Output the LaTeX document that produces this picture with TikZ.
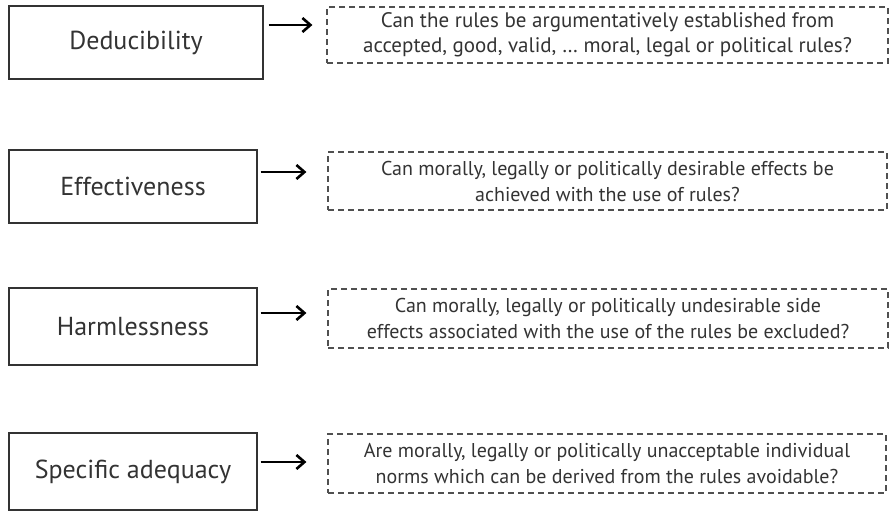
\documentclass[tikz,border=0pt]{standalone}
\usepackage{fontspec}
\setmainfont{PT Sans}
\usetikzlibrary{arrows.meta}
\definecolor{ink}{HTML}{333333}
\definecolor{dashgray}{HTML}{505050}
\begin{document}
\begin{tikzpicture}[x=1pt,y=-1pt,
  critbox/.style={draw=ink, line width=1.3pt, rectangle, inner sep=0pt,
    text=ink, font=\fontsize{26}{30}\selectfont},
  qbox/.style={draw=dashgray, line width=1.2pt, dash pattern=on 6pt off 4pt,
    rectangle, inner sep=0pt, text=ink, align=center,
    font=\fontsize{20}{26}\selectfont},
  arr/.style={draw=black, line width=2.6pt,
    -{Straight Barb[length=8pt,width=14pt,line width=2.6pt]}}]
\useasboundingbox (0,0) rectangle (892,512);

% criteria on the left
\node[critbox, minimum width=254pt, minimum height=73pt] (b1) at (136,42.5) {Deducibility};
\node[critbox, minimum width=248pt, minimum height=73pt] (b2) at (133,186.5) {Effectiveness};
\node[critbox, minimum width=248pt, minimum height=77pt] (b3) at (133,326.5) {Harmlessness};
\node[critbox, minimum width=248pt, minimum height=77pt] (b4) at (133,471.5) {Specific adequacy};

% guiding questions on the right
\node[qbox, minimum width=561pt, minimum height=56pt, font=\fontsize{21}{25}\selectfont] (d1) at (607.5,35)
  {Can the rules be argumentatively established from\\accepted, good, valid, … moral, legal or political rules?};
\node[qbox, minimum width=559pt, minimum height=58pt] (d2) at (607.5,181)
  {Can morally, legally or politically desirable effects be\\achieved with the use of rules?};
\node[qbox, minimum width=560pt, minimum height=59pt] (d3) at (608,318.5)
  {Can morally, legally or politically undesirable side\\effects associated with the use of the rules be excluded?};
\node[qbox, minimum width=558pt, minimum height=59pt] (d4) at (607,463.5)
  {Are morally, legally or politically unacceptable individual\\norms which can be derived from the rules avoidable?};

% connectors
\draw[arr] ([xshift=5pt,yshift=17.5pt]b1.east) -- ([xshift=-14pt,yshift=10pt]d1.west);
\draw[arr] ([xshift=3pt,yshift=14.5pt]b2.east) -- ([xshift=-21pt,yshift=9pt]d2.west);
\draw[arr] ([xshift=3pt,yshift=13.5pt]b3.east) -- ([xshift=-21pt,yshift=5.5pt]d3.west);
\draw[arr] ([xshift=3pt,yshift=9.5pt]b4.east) -- ([xshift=-21pt,yshift=1.5pt]d4.west);
\end{tikzpicture}
\end{document}
